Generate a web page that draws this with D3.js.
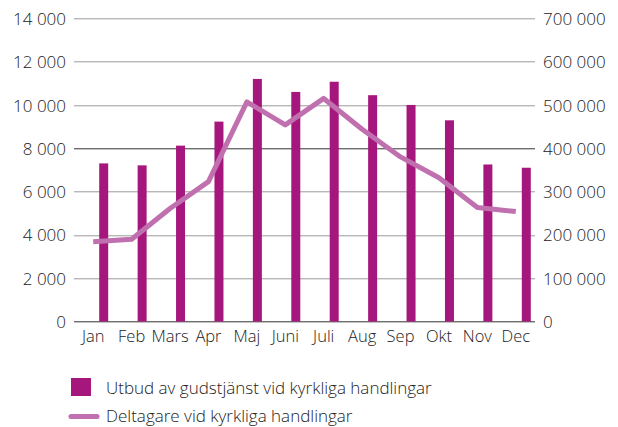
<!DOCTYPE html>
<html>
<head>
<meta charset="utf-8">
<script src="https://cdn.jsdelivr.net/npm/d3@7"></script>
<style>
  body { margin: 0; background: #fff; }
  svg text { font-family: "Open Sans", sans-serif; font-weight: 300; fill: #222; }
</style>
</head>
<body>
<div id="chart"></div>
<script>
// months and the two series
var months = ["Jan","Feb","Mars","Apr","Maj","Juni","Juli","Aug","Sep","Okt","Nov","Dec"];
var utbud = [7300, 7210, 8120, 9230, 11200, 10600, 11070, 10450, 10000, 9290, 7250, 7100];
var deltagare = [184000, 190000, 261000, 323000, 507000, 454000, 515000, 444000, 380000, 332000, 263000, 254000];
var leftTicks = [0, 2000, 4000, 6000, 8000, 10000, 12000, 14000];
var rightTicks = [0, 100000, 200000, 300000, 400000, 500000, 600000, 700000];
var legendLabels = ["Utbud av gudstjänst vid kyrkliga handlingar", "Deltagare vid kyrkliga handlingar"];

var W = 618, H = 427;
var margin = {top: 18.3, right: 83, bottom: 105.5, left: 74};
var width = W - margin.left - margin.right,
    height = H - margin.top - margin.bottom;

var barColor = "#a6177d", lineColor = "#c070ae";

var svg = d3.select("#chart").append("svg")
  .attr("width", W).attr("height", H);
var g = svg.append("g")
  .attr("transform", "translate(" + margin.left + "," + margin.top + ")");

var x = d3.scaleBand().domain(months).range([0, width]).padding(0);
var yL = d3.scaleLinear().domain([0, 14000]).range([height, 0]);
var yR = d3.scaleLinear().domain([0, 700000]).range([height, 0]);

var fmt = function(v) { return d3.format(",")(v).replace(/,/g, " "); };

// gridlines
g.append("g").selectAll("line")
  .data(leftTicks)
  .enter().append("line")
  .attr("x1", 0).attr("x2", width)
  .attr("y1", function(d) { return Math.round(yL(d)) + 0.5; })
  .attr("y2", function(d) { return Math.round(yL(d)) + 0.5; })
  .attr("stroke", function(d) { return (d === 0 || d === 8000) ? "#333" : "#9a9a9a"; })
  .attr("stroke-width", 1);

// left axis
g.append("g")
  .call(d3.axisLeft(yL).tickValues(leftTicks).tickSize(0).tickPadding(8).tickFormat(fmt))
  .call(function(a) { a.select(".domain").remove(); })
  .selectAll("text").style("font-size", "17px").attr("dy", "0.36em");

// right axis
g.append("g")
  .attr("transform", "translate(" + width + ",0)")
  .call(d3.axisRight(yR).tickValues(rightTicks).tickSize(0).tickPadding(8).tickFormat(fmt))
  .call(function(a) { a.select(".domain").remove(); })
  .selectAll("text").style("font-size", "17px").attr("dy", "0.36em");

// x axis labels
g.append("g")
  .attr("transform", "translate(0," + height + ")")
  .call(d3.axisBottom(x).tickSize(0).tickPadding(9))
  .call(function(a) { a.select(".domain").remove(); })
  .selectAll("text").style("font-size", "16.5px");

// bars, offset to the right of the band centre
var barW = 9, barOff = 6;
g.selectAll(".bar")
  .data(utbud)
  .enter().append("rect")
  .attr("class", "bar")
  .attr("x", function(d, i) { return x(months[i]) + x.bandwidth() / 2 + barOff; })
  .attr("y", function(d) { return yL(d); })
  .attr("width", barW)
  .attr("height", function(d) { return height - yL(d); })
  .attr("fill", barColor);

// line
var line = d3.line()
  .x(function(d, i) { return x(months[i]) + x.bandwidth() / 2; })
  .y(function(d) { return yR(d); });
g.append("path")
  .datum(deltagare)
  .attr("d", line)
  .attr("fill", "none")
  .attr("stroke", lineColor)
  .attr("stroke-width", 5)
  .attr("stroke-linejoin", "round");

// legend
var lg = svg.append("g");
lg.append("rect").attr("x", 71).attr("y", 378).attr("width", 20).attr("height", 18).attr("fill", barColor);
lg.append("line").attr("x1", 71).attr("x2", 97).attr("y1", 416.5).attr("y2", 416.5)
  .attr("stroke", lineColor).attr("stroke-width", 5).attr("stroke-linecap", "round");
lg.selectAll("text")
  .data(legendLabels)
  .enter().append("text")
  .attr("x", 106)
  .attr("y", function(d, i) { return 394 + i * 28; })
  .style("font-size", "17px")
  .text(function(d) { return d; });
</script>
</body>
</html>
